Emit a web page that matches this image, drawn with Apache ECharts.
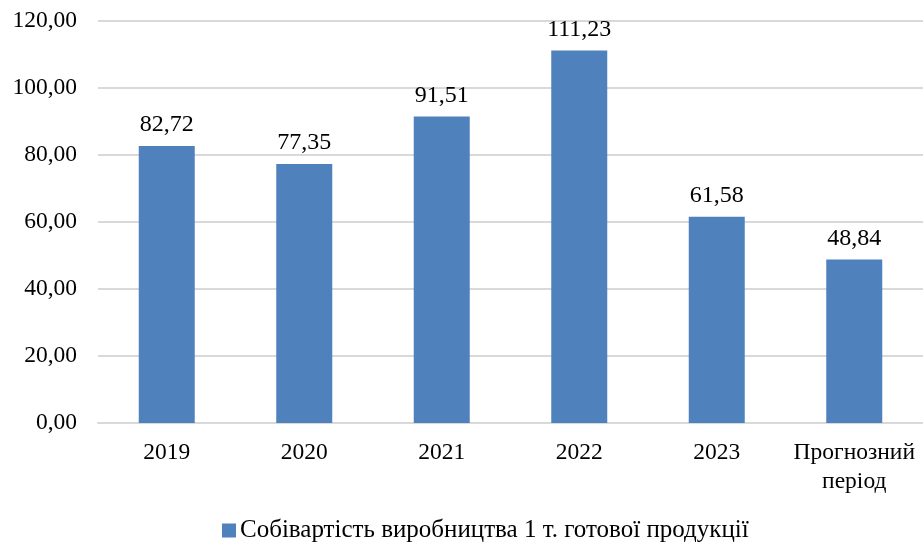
<!DOCTYPE html>
<html>
<head>
<meta charset="utf-8">
<script src="https://cdn.jsdelivr.net/npm/echarts@6/dist/echarts.min.js"></script>
<style>
html, body { margin: 0; padding: 0; background: #fff; }
#chart { width: 923px; height: 545px; }
</style>
</head>
<body>
<div id="chart"></div>
<script>
const categories = ['2019', '2020', '2021', '2022', '2023', 'Прогнозний\nперіод']
const values = [82.72, 77.35, 91.51, 111.23, 61.58, 48.84]
const seriesName = 'Собівартість виробництва 1 т. готової продукції'

const fmt = v => v.toFixed(2).replace('.', ',')
const font = '"Liberation Serif", "Times New Roman", serif'

const myChart = echarts.init(document.getElementById('chart'))
const option = {
    animation: false,
    textStyle: { fontFamily: font },
    grid: {
        left: 98,
        right: 0,
        top: 21,
        bottom: 122
    },
    legend: {
        data: [seriesName],
        bottom: -3,
        left: 217,
        icon: 'rect',
        itemWidth: 14,
        itemHeight: 14,
        itemGap: 5,
        textStyle: { fontFamily: font, fontSize: 25, color: '#000', padding: [0, 0, 0, -1] }
    },
    xAxis: {
        type: 'category',
        data: categories,
        axisLine: { lineStyle: { color: '#d9d9d9', width: 2 } },
        axisTick: { show: false },
        axisLabel: {
            interval: 0,
            color: '#000',
            fontSize: 23.5,
            fontFamily: font,
            margin: 15,
            lineHeight: 29
        }
    },
    yAxis: {
        type: 'value',
        min: 0,
        max: 120,
        interval: 20,
        axisLine: { show: false },
        axisTick: { show: false },
        splitLine: { lineStyle: { color: '#d9d9d9', width: 2 } },
        axisLabel: {
            color: '#000',
            fontSize: 23.5,
            fontFamily: font,
            margin: 21,
            formatter: v => fmt(v)
        }
    },
    series: [
        {
            name: seriesName,
            type: 'bar',
            data: values,
            barWidth: 56,
            itemStyle: { color: '#4f81bd' },
            label: {
                show: true,
                position: 'top',
                distance: 9,
                color: '#000',
                fontSize: 24,
                fontFamily: font,
                formatter: p => fmt(p.value)
            }
        }
    ]
}
myChart.setOption(option)
</script>
</body>
</html>
